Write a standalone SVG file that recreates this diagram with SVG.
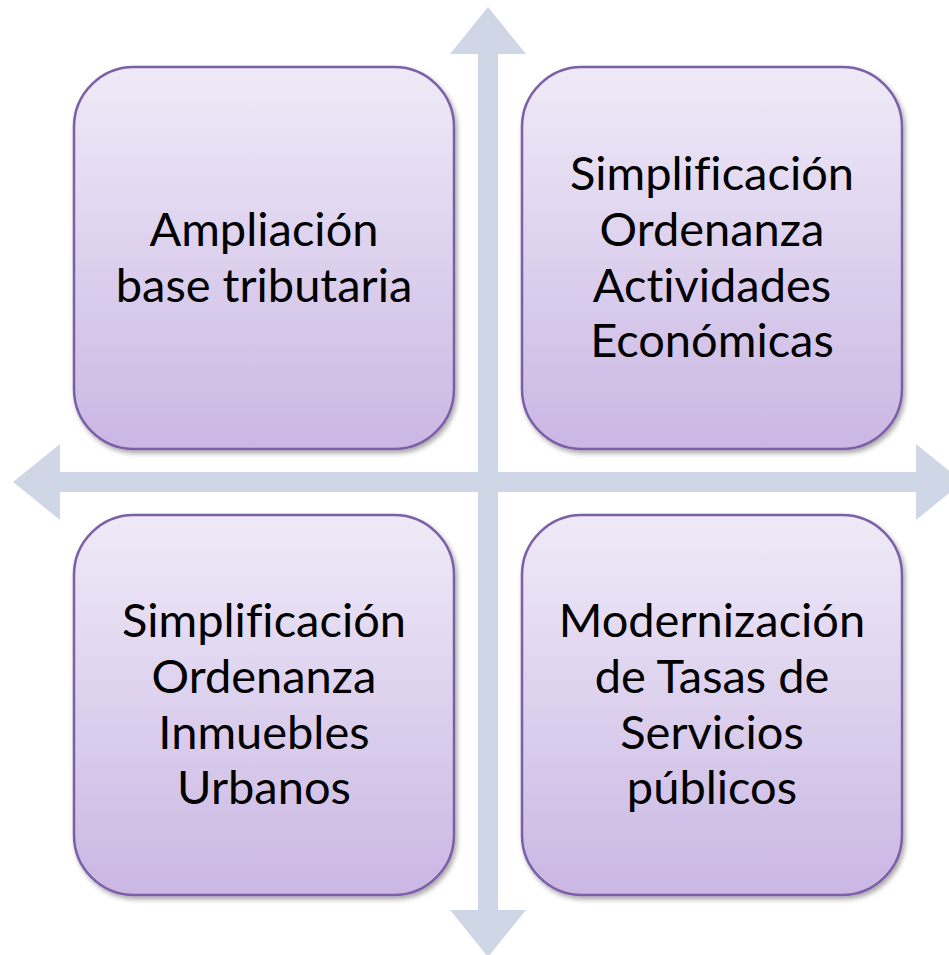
<svg xmlns="http://www.w3.org/2000/svg" width="949" height="955" viewBox="0 0 949 955">
<defs>
<linearGradient id="boxFill" x1="0" y1="0" x2="0" y2="1">
<stop offset="0" stop-color="#EFEAF7"/>
<stop offset="1" stop-color="#CAB7E4"/>
</linearGradient>
<filter id="shadow" x="-10%" y="-10%" width="120%" height="120%">
<feDropShadow dx="2" dy="3" stdDeviation="2.5" flood-color="#000" flood-opacity="0.35"/>
</filter>
</defs>
<style>
.box{fill:url(#boxFill);stroke:#7B5EA7;stroke-width:2.5;filter:url(#shadow)}
.arrow{fill:#CFD6E6;stroke:none}
.lbl{font-family:Lato,"Open Sans","Liberation Sans",sans-serif;font-size:47px;fill:#000;text-anchor:middle;font-variant-ligatures:none}
</style>
<rect width="949" height="955" fill="#FFFFFF"/>
<g id="connectors">
<polygon class="arrow" points="488,7 526,54 498,54 498,472 916,472 916,444 963,482 916,520 916,492 498,492 498,910 526,910 488,957 450,910 478,910 478,492 60,492 60,520 13,482 60,444 60,472 478,472 478,54 450,54"/>
</g>
<g id="node-ampliacion">
<rect class="box" x="74" y="67" width="380" height="382" rx="60" ry="60"/>
<text class="lbl" x="264" y="246">Ampliación</text>
<text class="lbl" x="264" y="302">base tributaria</text>
</g>
<g id="node-actividades">
<rect class="box" x="522" y="67" width="380" height="382" rx="60" ry="60"/>
<text class="lbl" x="712" y="190">Simplificación</text>
<text class="lbl" x="712" y="246">Ordenanza</text>
<text class="lbl" x="712" y="302">Actividades</text>
<text class="lbl" x="712" y="357">Económicas</text>
</g>
<g id="node-inmuebles">
<rect class="box" x="74" y="515" width="380" height="380" rx="60" ry="60"/>
<text class="lbl" x="264" y="637">Simplificación</text>
<text class="lbl" x="264" y="693">Ordenanza</text>
<text class="lbl" x="264" y="749">Inmuebles</text>
<text class="lbl" x="264" y="804">Urbanos</text>
</g>
<g id="node-tasas">
<rect class="box" x="522" y="515" width="380" height="380" rx="60" ry="60"/>
<text class="lbl" x="712" y="637">Modernización</text>
<text class="lbl" x="712" y="693">de Tasas de</text>
<text class="lbl" x="712" y="749">Servicios</text>
<text class="lbl" x="712" y="804">públicos</text>
</g>
</svg>
